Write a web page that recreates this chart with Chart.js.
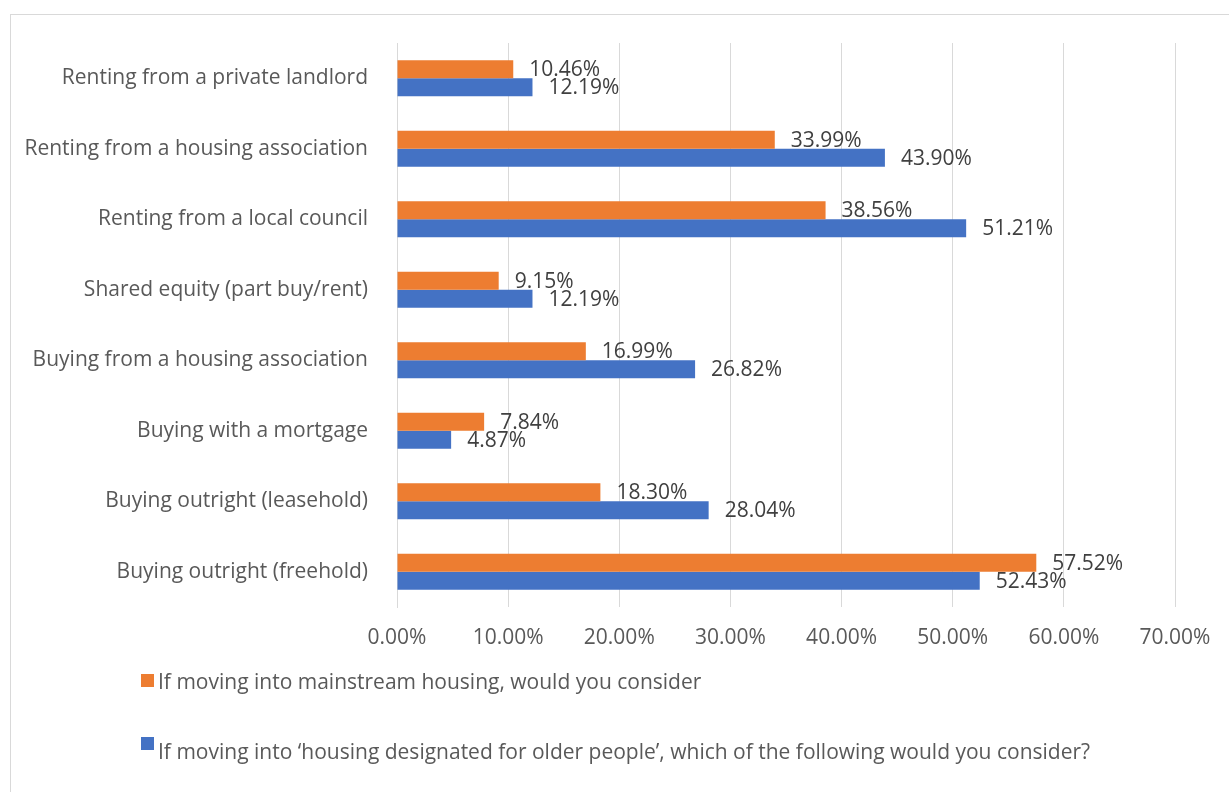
<!DOCTYPE html>
<html>
<head>
<meta charset="utf-8">
<script src="https://cdn.jsdelivr.net/npm/chart.js@4.4.1/dist/chart.umd.min.js"></script>
<style>
  body { margin: 0; background: #fff; font-family: 'Open Sans', sans-serif; }
  #wrap { position: relative; width: 1229px; height: 792px; overflow: hidden; }
  #frame { position: absolute; left: 10px; top: 14px; width: 1240px; height: 800px; border: 1px solid #d9d9d9; }
  #grafico { position: absolute; left: 0; top: 0; }
  #legenda { position: absolute; left: 141px; top: 666px; color: #595959; font-size: 21px; }
  .item { position: relative; height: 30px; line-height: 30px; padding-left: 17px; white-space: nowrap; }
  .item span { position: absolute; left: 0; top: 8px; width: 13px; height: 13px; }
</style>
</head>
<body>
<div id="wrap">
  <div id="frame"></div>
  <canvas id="grafico" width="1229" height="792"></canvas>
  <div id="legenda"></div>
</div>
<script>
const categorias = [
    'Renting from a private landlord',
    'Renting from a housing association',
    'Renting from a local council',
    'Shared equity (part buy/rent)',
    'Buying from a housing association',
    'Buying with a mortgage',
    'Buying outright (leasehold)',
    'Buying outright (freehold)'
];
const mainstream = [10.46, 33.99, 38.56, 9.15, 16.99, 7.84, 18.30, 57.52];
const olderPeople = [12.19, 43.90, 51.21, 12.19, 26.82, 4.87, 28.04, 52.43];
const nomesSeries = [
    'If moving into mainstream housing, would you consider',
    'If moving into \u2018housing designated for older people\u2019, which of the following would you consider?'
];
const ticksX = [0, 10, 20, 30, 40, 50, 60, 70];

const cores = ['#ED7D31', '#4472C4'];
const fonte = 'Open Sans';
const tamanho = 21;

// rotulos de valor ao lado de cada barra
const rotulos = {
    id: 'rotulos',
    afterDatasetsDraw(chart) {
        const ctx = chart.ctx;
        ctx.save();
        ctx.font = `${tamanho}px "${fonte}", sans-serif`;
        ctx.fillStyle = '#404040';
        ctx.textBaseline = 'middle';
        ctx.textAlign = 'left';
        chart.data.datasets.forEach((ds, i) => {
            chart.getDatasetMeta(i).data.forEach((bar, j) => {
                ctx.fillText(ds.data[j].toFixed(2) + '%', bar.x + 16, bar.y + 1);
            });
        });
        ctx.restore();
    }
};

const ctx = document.getElementById('grafico').getContext('2d');
new Chart(ctx, {
    type: 'bar',
    data: {
        labels: categorias,
        datasets: [
            { label: nomesSeries[0], data: mainstream, backgroundColor: cores[0] },
            { label: nomesSeries[1], data: olderPeople, backgroundColor: cores[1] }
        ]
    },
    options: {
        indexAxis: 'y',
        responsive: false,
        animation: false,
        categoryPercentage: 0.51,
        barPercentage: 1,
        layout: { padding: { top: 43, right: 54, left: 0, bottom: 0 } },
        plugins: { legend: { display: false }, tooltip: { enabled: false } },
        scales: {
            x: {
                min: 0,
                max: 70,
                afterBuildTicks: s => { s.ticks = ticksX.map(v => ({ value: v })); },
                afterFit: s => { s.height = 185; },
                grid: { color: '#d9d9d9', drawTicks: false },
                border: { display: false },
                ticks: {
                    padding: 18,
                    color: '#595959',
                    font: { family: fonte, size: tamanho },
                    callback: v => v.toFixed(2) + '%'
                }
            },
            y: {
                afterFit: s => { s.width = 397; },
                grid: { display: false, drawTicks: false },
                border: { display: true, color: '#d9d9d9' },
                ticks: {
                    padding: 29,
                    color: '#595959',
                    font: { family: fonte, size: tamanho }
                }
            }
        }
    },
    plugins: [rotulos]
});

const legenda = document.getElementById('legenda');
nomesSeries.forEach((nome, i) => {
    const div = document.createElement('div');
    div.className = 'item';
    if (i > 0) div.style.marginTop = '40px';
    div.innerHTML = `<span style="background:${cores[i]};${i > 0 ? 'top:1px' : ''}"></span>${nome}`;
    legenda.appendChild(div);
});
</script>
</body>
</html>
